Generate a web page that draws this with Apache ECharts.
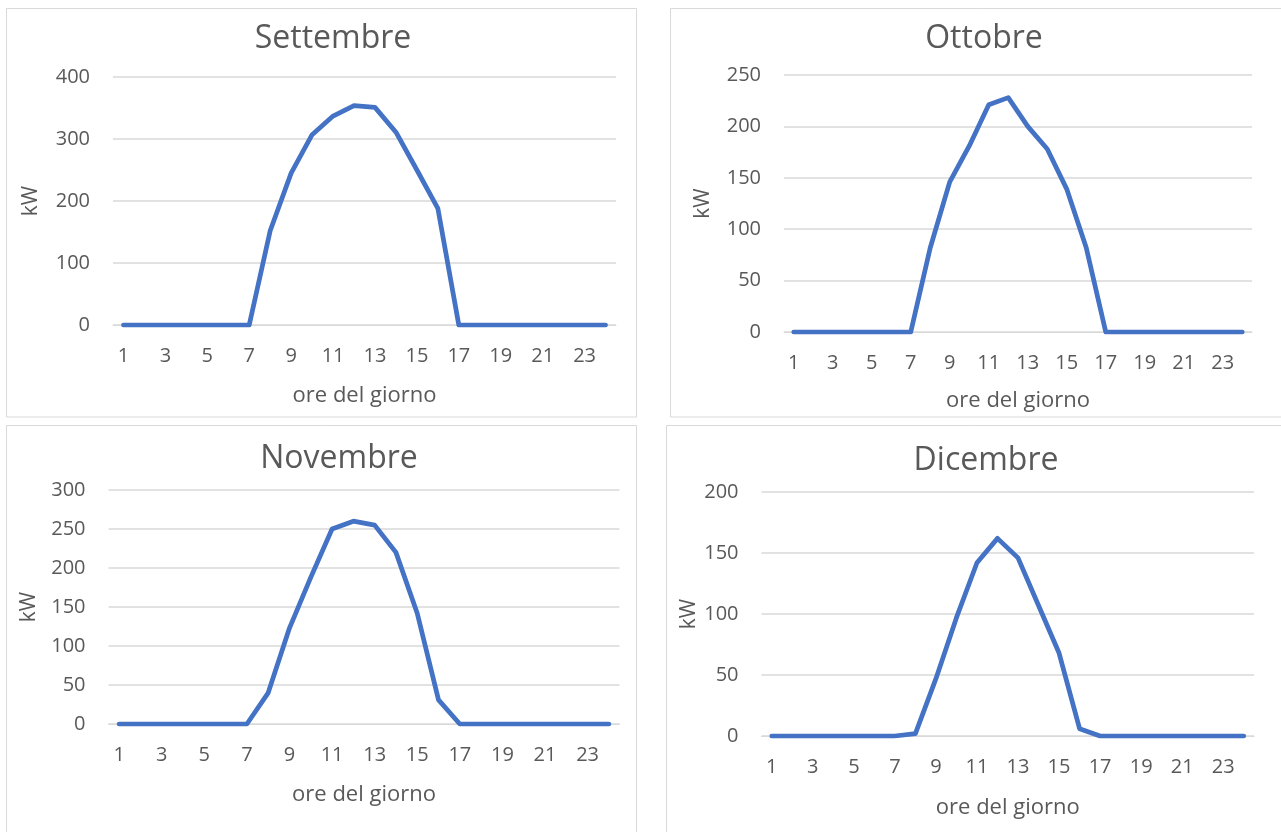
<!DOCTYPE html>
<html>
<head>
<meta charset="utf-8">
<title>Produzione oraria</title>
<script src="https://cdn.jsdelivr.net/npm/echarts@6/dist/echarts.min.js"></script>
<style>
  html, body { margin: 0; padding: 0; background: #ffffff; }
  #chart { width: 1281px; height: 832px; }
</style>
</head>
<body>
<div id="chart"></div>
<script>
// Ore del giorno (1..24)
const hours = ['1','2','3','4','5','6','7','8','9','10','11','12','13','14','15','16','17','18','19','20','21','22','23','24'];

// Potenza media oraria in kW, per mese
const settembre = [0,0,0,0,0,0,0,152,245,307,337,354,351,311,250,188,0,0,0,0,0,0,0,0];
const ottobre   = [0,0,0,0,0,0,0,82,146,181,221,228,200,178,139,82,0,0,0,0,0,0,0,0];
const novembre  = [0,0,0,0,0,0,0,40,123,188,250,260,255,220,142,31,0,0,0,0,0,0,0,0];
const dicembre  = [0,0,0,0,0,0,0,2,47,97,142,162,146,107,68,6,0,0,0,0,0,0,0,0];

const titles = ['Settembre', 'Ottobre', 'Novembre', 'Dicembre'];
const yMax = [400, 250, 300, 200];
const yStep = [100, 50, 50, 50];

const FONT = '"Open Sans", "Liberation Sans", sans-serif';
const TEXT = '#595959';
const GRID = '#D9D9D9';
const LINE = '#4472C4';

// Layout of each panel: plot area, frame, title centre, axis-name gaps
const panels = [
  { grid: { left: 113,   top: 77,  width: 503,   height: 248 }, frame: [6.5, 8.5, 630, 408.5],   title: [333, 39],  xGap: 60, yGap: 71 },
  { grid: { left: 784,   top: 75,  width: 468,   height: 257 }, frame: [670.5, 8.5, 640, 408.5], title: [984, 39],  xGap: 58, yGap: 70 },
  { grid: { left: 108.5, top: 490, width: 511,   height: 234 }, frame: [6.5, 425.5, 630, 420],   title: [339, 459], xGap: 60, yGap: 69 },
  { grid: { left: 761.5, top: 492, width: 492.5, height: 244 }, frame: [666.5, 425.5, 640, 420], title: [986, 461], xGap: 61, yGap: 62 }
];
const seriesData = [settembre, ottobre, novembre, dicembre];

const chart = echarts.init(document.getElementById('chart'), null, { renderer: 'canvas' });

const graphic = [];
panels.forEach((p, i) => {
  graphic.push({
    type: 'rect', silent: true, z: 0,
    shape: { x: p.frame[0], y: p.frame[1], width: p.frame[2], height: p.frame[3] },
    style: { fill: 'none', stroke: '#D9D9D9', lineWidth: 1 }
  });
  graphic.push({
    type: 'text', silent: true, z: 10,
    x: p.title[0], y: p.title[1],
    style: { text: titles[i], font: '32px ' + FONT, fill: TEXT, align: 'center', verticalAlign: 'middle' }
  });
});

const option = {
  backgroundColor: '#ffffff',
  animation: false,
  graphic: graphic,
  grid: panels.map(p => Object.assign({ containLabel: false }, p.grid)),
  xAxis: panels.map((p, i) => ({
    type: 'category',
    gridIndex: i,
    data: hours,
    boundaryGap: true,
    name: 'ore del giorno',
    nameLocation: 'middle',
    nameGap: p.xGap,
    nameTextStyle: { fontFamily: FONT, fontSize: 22, color: TEXT },
    axisLine: { show: true, lineStyle: { color: GRID, width: 1 } },
    axisTick: { show: false },
    axisLabel: { interval: 1, margin: 21, fontFamily: FONT, fontSize: 20, color: TEXT },
    splitLine: { show: false }
  })),
  yAxis: panels.map((p, i) => ({
    type: 'value',
    gridIndex: i,
    min: 0,
    max: yMax[i],
    interval: yStep[i],
    name: 'kW',
    nameLocation: 'middle',
    nameGap: p.yGap,
    nameRotate: 90,
    nameTextStyle: { fontFamily: FONT, fontSize: 21, color: TEXT },
    axisLine: { show: false },
    axisTick: { show: false },
    axisLabel: { margin: 23, fontFamily: FONT, fontSize: 20, color: TEXT },
    splitLine: { show: true, lineStyle: { color: GRID, width: 1.5 } }
  })),
  series: seriesData.map((d, i) => ({
    type: 'line',
    xAxisIndex: i,
    yAxisIndex: i,
    data: d,
    symbol: 'none',
    smooth: false,
    lineStyle: { color: LINE, width: 4.75, cap: 'round', join: 'round' },
    z: 5
  }))
};

chart.setOption(option);
</script>
</body>
</html>
